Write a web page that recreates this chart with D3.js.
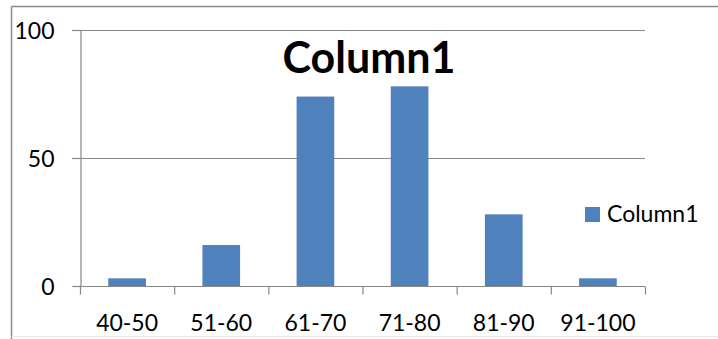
<!DOCTYPE html>
<html>
<head>
<meta charset="utf-8">
<script src="https://cdn.jsdelivr.net/npm/d3@7"></script>
<style>
  html, body { margin: 0; padding: 0; background: #fff; }
  svg { display: block; }
  text { font-family: Lato, "Open Sans", sans-serif; fill: #000; }
</style>
</head>
<body>
<svg id="chart" width="718" height="339"></svg>
<script>
const categories = ["40-50", "51-60", "61-70", "71-80", "81-90", "91-100"];
const values = [3, 16, 74, 78, 28, 3];
const yTicks = [0, 50, 100];
const seriesName = "Column1";
const chartTitle = "Column1";

const svg = d3.select("#chart");
const W = 718, H = 339;

// outer chart frame
svg.append("line").attr("x1", 11.5).attr("y1", 6.5).attr("x2", W).attr("y2", 6.5)
  .attr("stroke", "#8a8a8a").attr("stroke-width", 1.5);
svg.append("line").attr("x1", 11.5).attr("y1", 6.5).attr("x2", 11.5).attr("y2", H)
  .attr("stroke", "#8a8a8a").attr("stroke-width", 1.5);
svg.append("line").attr("x1", 11.5).attr("y1", 336.5).attr("x2", W).attr("y2", 336.5)
  .attr("stroke", "#e8e8e8").attr("stroke-width", 1);

const plot = { left: 80, right: 645, top: 30, bottom: 286 };

const x = d3.scaleBand().domain(categories).range([plot.left, plot.right])
  .paddingInner(0.6).paddingOuter(0.3);
const xOuter = d3.scaleBand().domain(categories).range([plot.left, plot.right]);
const y = d3.scaleLinear().domain([0, 100]).range([plot.bottom, plot.top]);

const gridColor = "#888";

// gridlines (y) incl. outside tick
const g = svg.append("g");
g.selectAll("line.grid").data(yTicks.filter(d => d > 0)).enter().append("line")
  .attr("x1", 72).attr("x2", plot.right)
  .attr("y1", d => Math.round(y(d)) + 0.5).attr("y2", d => Math.round(y(d)) + 0.5)
  .attr("stroke", gridColor).attr("stroke-width", 1.2);

// y axis
const yAxis = d3.axisLeft(y).tickValues(yTicks).tickSize(8).tickPadding(18);
const ya = svg.append("g").attr("transform", `translate(${plot.left + 0.5},0)`).call(yAxis);
ya.select(".domain").attr("stroke", gridColor).attr("stroke-width", 1.2);
ya.selectAll(".tick line").attr("stroke", gridColor).attr("stroke-width", 1.2);
ya.selectAll(".tick text").attr("font-size", 23).attr("font-family", "Lato, sans-serif")
  .attr("fill", "#000").attr("dy", "0.35em").attr("x", -26);

// bars
svg.selectAll("rect.bar").data(values).enter().append("rect")
  .attr("class", "bar")
  .attr("x", (d, i) => x(categories[i]))
  .attr("width", x.bandwidth())
  .attr("y", d => y(d))
  .attr("height", d => y(0) - y(d))
  .attr("fill", "#4f81bd");

// x axis
const xAxis = d3.axisBottom(xOuter).tickSize(0).tickPadding(0);
const xa = svg.append("g").attr("transform", `translate(0,${plot.bottom + 0.5})`).call(xAxis);
xa.select(".domain").remove();
xa.append("line").attr("x1", plot.left).attr("x2", plot.right).attr("y1", 0).attr("y2", 0)
  .attr("stroke", gridColor).attr("stroke-width", 1.2);
const bounds = categories.map(c => xOuter(c)).concat([plot.right]);
xa.selectAll("line.xt").data(bounds).enter().append("line")
  .attr("x1", d => d + 0.5).attr("x2", d => d + 0.5).attr("y1", 0).attr("y2", 8)
  .attr("stroke", gridColor).attr("stroke-width", 1.2);
xa.selectAll(".tick text").attr("font-size", 23).attr("font-family", "Lato, sans-serif")
  .attr("fill", "#000").attr("y", 44).attr("dy", 0);

// title
svg.append("text").attr("x", 369).attr("y", 73).attr("text-anchor", "middle")
  .attr("font-size", 43).attr("font-weight", "bold").text(chartTitle);

// legend
svg.append("rect").attr("x", 585).attr("y", 207).attr("width", 15).attr("height", 15)
  .attr("fill", "#4f81bd");
svg.append("text").attr("x", 607).attr("y", 222).attr("font-size", 23).text(seriesName);
</script>
</body>
</html>
